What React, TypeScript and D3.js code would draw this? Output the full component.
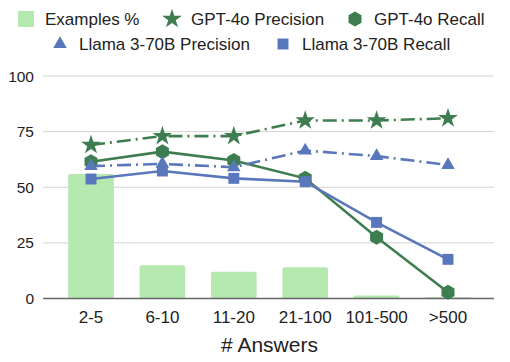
import React from "react";
import { scaleLinear, scalePoint, line, symbol, symbolStar, symbolTriangle, symbolSquare } from "d3";

const width = 510;
const height = 362;

const categories = ["2-5", "6-10", "11-20", "21-100", "101-500", ">500"];
const examplesPct = [56, 15, 12, 14, 1.3, 0.6];
const gptPrecision = [69, 73, 73, 80, 80, 81];
const gptRecall = [61.5, 66, 62, 54, 27.5, 2.8];
const llamaPrecision = [59.5, 60.5, 59, 66.5, 64, 60];
const llamaRecall = [53.7, 57.3, 54, 52.5, 34.2, 17.6];
const yTicks = [0, 25, 50, 75, 100];

const green = "#3e7d4f";
const blue = "#5977bb";
const barColor = "#b5e9b0";
const font = "'Liberation Sans', Arial, sans-serif";

const plot = { left: 43, right: 494, top: 76, bottom: 298.5 };

const hexPath = (r: number) => {
  const pts = [];
  for (let i = 0; i < 6; i++) {
    const a = (Math.PI / 3) * i - Math.PI / 2;
    pts.push(`${r * Math.cos(a)},${r * Math.sin(a)}`);
  }
  return `M${pts.join("L")}Z`;
};

const starD = symbol(symbolStar, 120)() as string;
const triD = symbol(symbolTriangle, 80)() as string;
const squareD = symbol(symbolSquare, 120)() as string;
const hexD = hexPath(7.5);

const series = [
  { name: "GPT-4o Precision", values: gptPrecision, color: green, dash: "14 5 2 5", marker: starD },
  { name: "GPT-4o Recall", values: gptRecall, color: green, dash: null, marker: hexD },
  { name: "Llama 3-70B Precision", values: llamaPrecision, color: blue, dash: "14 5 2 5", marker: triD },
  { name: "Llama 3-70B Recall", values: llamaRecall, color: blue, dash: null, marker: squareD },
];

export default function App() {
  const xScale = scalePoint<string>().domain(categories).range([91, 448]);
  const step = xScale.step();
  const barW = step * 0.64;

  const yScale = scaleLinear().domain([0, 100]).range([plot.bottom, plot.top]);

  const mkLine = (vals: number[]) =>
    line<number>()
      .x((_, i) => xScale(categories[i]) as number)
      .y((d) => yScale(d))(vals) as string;

  const legendRow1 = [
    { x: 18, type: "bar", label: "Examples %" },
    { x: 164, type: "s0", label: "GPT-4o Precision" },
    { x: 347, type: "s1", label: "GPT-4o Recall" },
  ];
  const legendRow2 = [
    { x: 52, type: "s2", label: "Llama 3-70B Precision" },
    { x: 275, type: "s3", label: "Llama 3-70B Recall" },
  ];

  const legendItem = (it: { x: number; type: string; label: string }, y: number) => {
    let icon;
    if (it.type === "bar") {
      icon = <rect x={it.x} y={y - 8} width={16} height={16} fill={barColor} />;
    } else {
      const s = series[+it.type.slice(1)];
      icon = <path d={s.marker} transform={`translate(${it.x + 8},${y})`} fill={s.color} />;
    }
    return (
      <g key={it.label}>
        {icon}
        <text x={it.x + 27} y={y} dy="0.36em" fontSize={17} fill="#222">
          {it.label}
        </text>
      </g>
    );
  };

  return (
    <svg width={width} height={height} style={{ position: "absolute", left: 0, top: 0, fontFamily: font }}>
      <rect width={width} height={height} fill="#fff" />

      {/* legend */}
      {legendRow1.map((it) => legendItem(it, 19))}
      {legendRow2.map((it) => legendItem(it, 44))}

      {/* grid + y axis */}
      {yTicks.map((t) => (
        <g key={t} transform={`translate(0,${yScale(t)})`}>
          {t > 0 && <line x1={plot.left} x2={plot.right} stroke="#d3d3d3" strokeWidth={1} />}
          <text x={34} dy="0.36em" textAnchor="end" fontSize={15.5} fill="#222">
            {t}
          </text>
        </g>
      ))}

      {/* bars */}
      {categories.map((c, i) => (
        <rect
          key={c}
          x={(xScale(c) as number) - barW / 2}
          y={yScale(examplesPct[i])}
          width={barW}
          height={plot.bottom - yScale(examplesPct[i])}
          rx={2}
          fill={barColor}
        />
      ))}

      {/* x axis line */}
      <line x1={plot.left} x2={plot.right} y1={plot.bottom} y2={plot.bottom} stroke="#666" strokeWidth={1.5} />

      {/* lines */}
      {series.map((s) => (
        <g key={s.name}>
          <path
            d={mkLine(s.values)}
            fill="none"
            stroke={s.color}
            strokeWidth={2.6}
            strokeDasharray={s.dash ?? undefined}
          />
          {s.values.map((v, i) => (
            <path
              key={i}
              d={s.marker}
              transform={`translate(${xScale(categories[i])},${yScale(v)})`}
              fill={s.color}
            />
          ))}
        </g>
      ))}

      {/* x tick labels */}
      {categories.map((c) => (
        <text key={c} x={xScale(c)} y={323} textAnchor="middle" fontSize={17} fill="#222">
          {c}
        </text>
      ))}
      <text x={(plot.left + plot.right) / 2 + 1} y={352} textAnchor="middle" fontSize={21} fill="#222">
        # Answers
      </text>
    </svg>
  );
}
